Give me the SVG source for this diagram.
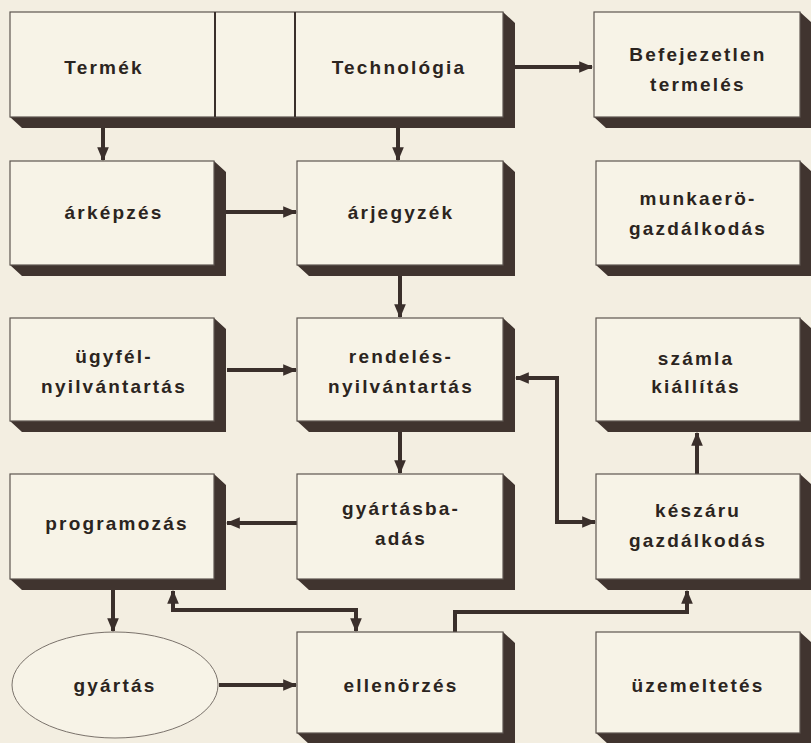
<svg xmlns="http://www.w3.org/2000/svg" width="811" height="743" viewBox="0 0 811 743">
<style>
.face{fill:#f7f3e7;stroke:#5e5650;stroke-width:1.2}
.sh{fill:#40342f}
.t{font-family:"Liberation Sans",Arial,sans-serif;font-weight:bold;font-size:19px;letter-spacing:2.2px;fill:#2b2420;text-anchor:middle}
.c{fill:none;stroke:#3a2f2b;stroke-width:4}
.div{stroke:#3a2f2b;stroke-width:2}
</style>
<defs>
<marker id="ah" markerUnits="userSpaceOnUse" markerWidth="14" markerHeight="14" refX="11" refY="6" orient="auto-start-reverse" viewBox="0 0 12 12">
<path d="M0,1 L12,6 L0,11 Z" fill="#3a2f2b"/>
</marker>
</defs>
<rect width="811" height="743" fill="#f3eee1"/>

<g id="connectors">
<path class="c" d="M103,128 V160" marker-end="url(#ah)"/>
<path class="c" d="M398,128 V160" marker-end="url(#ah)"/>
<path class="c" d="M515,67 H592" marker-end="url(#ah)"/>
<path class="c" d="M226,212 H296" marker-end="url(#ah)"/>
<path class="c" d="M400,276 V317" marker-end="url(#ah)"/>
<path class="c" d="M227,370 H296" marker-end="url(#ah)"/>
<path class="c" d="M516,378 H557 V522 H595" marker-start="url(#ah)" marker-end="url(#ah)"/>
<path class="c" d="M400,432 V473" marker-end="url(#ah)"/>
<path class="c" d="M297,523 H227" marker-end="url(#ah)"/>
<path class="c" d="M697,474 V433" marker-end="url(#ah)"/>
<path class="c" d="M113,590 V631" marker-end="url(#ah)"/>
<path class="c" d="M173,591 V610 H356 V631" marker-start="url(#ah)" marker-end="url(#ah)"/>
<path class="c" d="M219,685 H296" marker-end="url(#ah)"/>
<path class="c" d="M455,632 V612 H687 V591" marker-end="url(#ah)"/>
</g>

<g id="termek-technologia">
<polygon class="sh" points="10,117 503,117 503,12 515,23 515,128 22,128"/>
<rect class="face" x="10" y="12" width="493" height="105"/>
<line class="div" x1="215" y1="12" x2="215" y2="117"/>
<line class="div" x1="295" y1="12" x2="295" y2="117"/>
<text class="t" x="104" y="74">Termék</text>
<text class="t" x="399" y="74">Technológia</text>
</g>

<g id="befejezetlen">
<polygon class="sh" points="594,117 800,117 800,12 812,23 812,128 606,128"/>
<rect class="face" x="594" y="12" width="206" height="105"/>
<text class="t" x="698" y="61">Befejezetlen</text>
<text class="t" x="698" y="91">termelés</text>
</g>

<g id="arkepzes">
<polygon class="sh" points="10,265 214,265 214,161 226,172 226,276 22,276"/>
<rect class="face" x="10" y="161" width="204" height="104"/>
<text class="t" x="114" y="219">árképzés</text>
</g>

<g id="arjegyzek">
<polygon class="sh" points="297,265 503,265 503,161 515,172 515,276 309,276"/>
<rect class="face" x="297" y="161" width="206" height="104"/>
<text class="t" x="401" y="219">árjegyzék</text>
</g>

<g id="munkaero">
<polygon class="sh" points="596,265 800,265 800,161 812,172 812,276 608,276"/>
<rect class="face" x="596" y="161" width="204" height="104"/>
<text class="t" x="698" y="205">munkaerö-</text>
<text class="t" x="698" y="235">gazdálkodás</text>
</g>

<g id="ugyfel">
<polygon class="sh" points="10,421 214,421 214,318 226,329 226,432 22,432"/>
<rect class="face" x="10" y="318" width="204" height="103"/>
<text class="t" x="114" y="363">ügyfél-</text>
<text class="t" x="114" y="393">nyilvántartás</text>
</g>

<g id="rendeles">
<polygon class="sh" points="297,421 503,421 503,318 515,329 515,432 309,432"/>
<rect class="face" x="297" y="318" width="206" height="103"/>
<text class="t" x="401" y="363">rendelés-</text>
<text class="t" x="401" y="393">nyilvántartás</text>
</g>

<g id="szamla">
<polygon class="sh" points="596,421 800,421 800,318 812,329 812,432 608,432"/>
<rect class="face" x="596" y="318" width="204" height="103"/>
<text class="t" x="696" y="365">számla</text>
<text class="t" x="696" y="393">kiállítás</text>
</g>

<g id="programozas">
<polygon class="sh" points="10,579 214,579 214,474 226,485 226,590 22,590"/>
<rect class="face" x="10" y="474" width="204" height="105"/>
<text class="t" x="117" y="530">programozás</text>
</g>

<g id="gyartasbaadas">
<polygon class="sh" points="297,579 503,579 503,474 515,485 515,590 309,590"/>
<rect class="face" x="297" y="474" width="206" height="105"/>
<text class="t" x="401" y="515">gyártásba-</text>
<text class="t" x="401" y="545">adás</text>
</g>

<g id="keszaru">
<polygon class="sh" points="596,579 800,579 800,474 812,485 812,590 608,590"/>
<rect class="face" x="596" y="474" width="204" height="105"/>
<text class="t" x="698" y="517">készáru</text>
<text class="t" x="698" y="547">gazdálkodás</text>
</g>

<g id="gyartas">
<ellipse cx="115" cy="685" rx="103" ry="53" fill="#f7f3e7" stroke="#7a726b" stroke-width="1"/>
<text class="t" x="115" y="692">gyártás</text>
</g>

<g id="ellenorzes">
<polygon class="sh" points="297,733 503,733 503,632 515,643 515,744 309,744"/>
<rect class="face" x="297" y="632" width="206" height="101"/>
<text class="t" x="401" y="692">ellenörzés</text>
</g>

<g id="uzemeltetes">
<polygon class="sh" points="596,733 800,733 800,632 812,643 812,744 608,744"/>
<rect class="face" x="596" y="632" width="204" height="101"/>
<text class="t" x="698" y="692">üzemeltetés</text>
</g>
</svg>
